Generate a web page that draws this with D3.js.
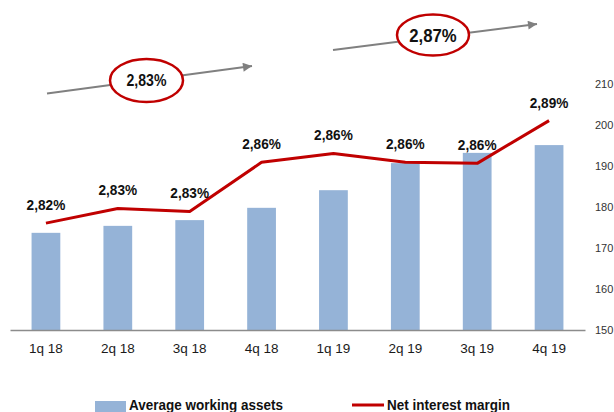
<!DOCTYPE html>
<html>
<head>
<meta charset="utf-8">
<script src="https://cdn.jsdelivr.net/npm/d3@7"></script>
<style>
  body { margin: 0; background: #fff; }
  svg { display: block; font-family: "Liberation Sans", Arial, sans-serif; }
</style>
</head>
<body>
<div id="chart"></div>
<script>
const quarters = ["1q 18", "2q 18", "3q 18", "4q 18", "1q 19", "2q 19", "3q 19", "4q 19"];
const workingAssets = [173.7, 175.4, 176.8, 179.8, 184.1, 190.7, 193.2, 195.1];
const netMargin = [2.82, 2.83, 2.828, 2.8615, 2.8676, 2.8615, 2.8608, 2.89];
const marginLabels = ["2,82%", "2,83%", "2,83%", "2,86%", "2,86%", "2,86%", "2,86%", "2,89%"];
const assetTicks = [150, 160, 170, 180, 190, 200, 210];
const trendLabels = ["2,83%", "2,87%"];
const legendLabels = ["Average working assets", "Net interest margin"];

const width = 614;
const height = 412;
const barColor = "#95b3d7";
const lineColor = "#c00000";
const arrowColor = "#808080";
const squeeze = 0.88; // the source's bold labels are a bit narrow

const svg = d3.select("#chart")
  .append("svg")
  .attr("width", width)
  .attr("height", height);

const x = d3.scaleBand()
  .domain(quarters)
  .range([10, 585])
  .paddingInner(0.6)
  .paddingOuter(0.3);

const y = d3.scaleLinear().domain([150, 210]).range([330, 84]);
// hidden percent axis for the line
const yPct = d3.scaleLinear().domain([2.747, 2.915]).range([330, 84]);

// bars
svg.append("g")
  .selectAll("rect")
  .data(workingAssets)
  .join("rect")
  .attr("x", (d, i) => x(quarters[i]))
  .attr("y", (d) => y(d))
  .attr("width", x.bandwidth())
  .attr("height", (d) => y(150) - y(d))
  .attr("fill", barColor);

// bottom axis
const xAxis = svg.append("g")
  .attr("transform", `translate(0,${y(150)})`)
  .call(d3.axisBottom(x).tickSize(0).tickPadding(13).tickSizeOuter(0));
xAxis.select(".domain").attr("stroke", "#8c8c8c").attr("stroke-width", 1.5);
xAxis.selectAll("text").attr("font-size", 13.5).attr("fill", "#1a1a1a")
  .attr("font-family", "Liberation Sans, Arial, sans-serif");

// right axis
const yAxis = svg.append("g")
  .attr("transform", "translate(595,0)")
  .call(d3.axisRight(y).tickValues(assetTicks).tickSize(0).tickPadding(0));
yAxis.select(".domain").remove();
yAxis.selectAll("text").attr("font-size", 11).attr("fill", "#333")
  .attr("font-family", "Liberation Sans, Arial, sans-serif");

// margin line
const cx = (i) => x(quarters[i]) + x.bandwidth() / 2;
const line = d3.line()
  .x((d, i) => cx(i))
  .y((d) => yPct(d));

svg.append("path")
  .datum(netMargin)
  .attr("d", line)
  .attr("fill", "none")
  .attr("stroke", lineColor)
  .attr("stroke-width", 3)
  .attr("stroke-linejoin", "round");

svg.append("g")
  .selectAll("text")
  .data(netMargin)
  .join("text")
  .attr("transform", (d, i) => `translate(${cx(i)},${yPct(d) - 13}) scale(${squeeze},1)`)
  .attr("text-anchor", "middle")
  .attr("font-size", 15.5)
  .attr("font-weight", "bold")
  .attr("fill", "#111")
  .text((d, i) => marginLabels[i]);

// trend arrows with circled averages
const defs = svg.append("defs");
defs.append("marker")
  .attr("id", "arrowHead")
  .attr("viewBox", "0 0 10 10")
  .attr("refX", 10)
  .attr("refY", 5)
  .attr("markerWidth", 11)
  .attr("markerHeight", 9)
  .attr("markerUnits", "userSpaceOnUse")
  .attr("orient", "auto")
  .append("path")
  .attr("d", "M0,0L10,5L0,10Z")
  .attr("fill", arrowColor);

const trends = [
  { x1: 47, y1: 93.5, x2: 252, y2: 66, cx: 146.5, cy: 80.5, rx: 36.5, ry: 21.5, size: 16 },
  { x1: 333, y1: 50, x2: 537, y2: 24, cx: 433, cy: 35, rx: 36, ry: 20.5, size: 19 }
];

const trend = svg.append("g")
  .selectAll("g")
  .data(trends)
  .join("g");

trend.append("line")
  .attr("x1", (d) => d.x1)
  .attr("y1", (d) => d.y1)
  .attr("x2", (d) => d.x2)
  .attr("y2", (d) => d.y2)
  .attr("stroke", arrowColor)
  .attr("stroke-width", 2)
  .attr("marker-end", "url(#arrowHead)");

trend.append("ellipse")
  .attr("cx", (d) => d.cx)
  .attr("cy", (d) => d.cy)
  .attr("rx", (d) => d.rx)
  .attr("ry", (d) => d.ry)
  .attr("fill", "#fff")
  .attr("stroke", lineColor)
  .attr("stroke-width", 2.5);

trend.append("text")
  .attr("transform", (d) => `translate(${d.cx},${d.cy}) scale(${squeeze},1)`)
  .attr("dy", "0.36em")
  .attr("text-anchor", "middle")
  .attr("font-size", (d) => d.size)
  .attr("font-weight", "bold")
  .attr("fill", "#111")
  .text((d, i) => trendLabels[i]);

// legend
const legend = svg.append("g").attr("font-size", 14.5).attr("font-weight", "bold").attr("fill", "#111");
legend.append("rect")
  .attr("x", 95).attr("y", 401).attr("width", 31).attr("height", 11)
  .attr("fill", barColor);
legend.append("text").attr("transform", `translate(129,410) scale(0.93,1)`).text(legendLabels[0]);
legend.append("line")
  .attr("x1", 352).attr("x2", 384).attr("y1", 405).attr("y2", 405)
  .attr("stroke", lineColor).attr("stroke-width", 3);
legend.append("text").attr("transform", `translate(387,410) scale(0.93,1)`).text(legendLabels[1]);
</script>
</body>
</html>
